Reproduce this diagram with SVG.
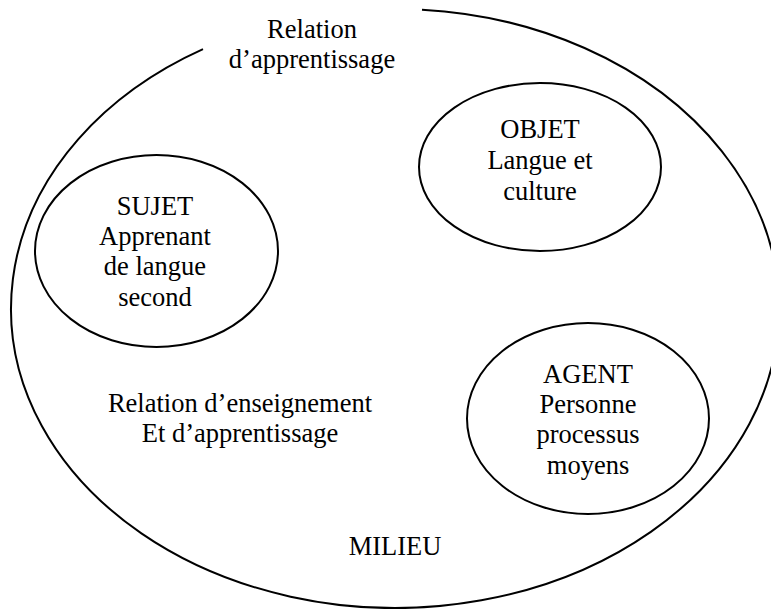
<svg xmlns="http://www.w3.org/2000/svg" width="771" height="609" viewBox="0 0 771 609">
  <style>
    .ring { fill: none; stroke: #000; stroke-width: 2; }
    .lbl { font-family: "Liberation Serif", "Times New Roman", serif; font-size: 26.5px; fill: #000; text-anchor: middle; }
  </style>
  <rect width="771" height="609" fill="#fff"/>

  <!-- Milieu: large ellipse, open at the top for its label -->
  <g id="milieu">
    <path class="ring" d="M 422 9.7 A 384 299.5 0 1 1 203 49.1"/>
    <text class="lbl" x="312" y="38">Relation</text>
    <text class="lbl" x="312" y="68">d’apprentissage</text>
    <text class="lbl" x="240" y="412">Relation d’enseignement</text>
    <text class="lbl" x="240" y="442">Et d’apprentissage</text>
    <text class="lbl" x="395" y="555">MILIEU</text>
  </g>

  <g id="sujet">
    <ellipse class="ring" cx="156.5" cy="251" rx="121.5" ry="96"/>
    <text class="lbl" x="155" y="215">SUJET</text>
    <text class="lbl" x="155" y="245">Apprenant</text>
    <text class="lbl" x="155" y="275">de langue</text>
    <text class="lbl" x="155" y="306">second</text>
  </g>

  <g id="objet">
    <ellipse class="ring" cx="540" cy="167" rx="121" ry="84"/>
    <text class="lbl" x="540" y="138">OBJET</text>
    <text class="lbl" x="540" y="169">Langue et</text>
    <text class="lbl" x="540" y="200">culture</text>
  </g>

  <g id="agent">
    <ellipse class="ring" cx="588" cy="418.5" rx="121" ry="95.5"/>
    <text class="lbl" x="588" y="383">AGENT</text>
    <text class="lbl" x="588" y="413">Personne</text>
    <text class="lbl" x="588" y="443">processus</text>
    <text class="lbl" x="588" y="474">moyens</text>
  </g>
</svg>
